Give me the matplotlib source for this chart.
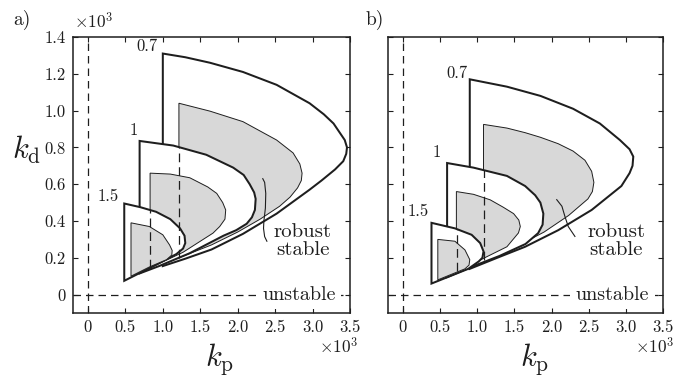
import matplotlib
matplotlib.use("Agg")
import matplotlib.pyplot as plt

plt.rcParams["font.family"] = ["cmr10", "DejaVu Serif"]
plt.rcParams["mathtext.fontset"] = "cm"
plt.rcParams["axes.unicode_minus"] = False
plt.rcParams["axes.formatter.use_mathtext"] = True

# all values in units of 10^3
# ---- panel a) ----
a07_kp = [1.0, 1.3, 1.63, 2.07, 2.52, 2.96, 3.15, 3.28, 3.38, 3.43, 3.46, 3.45, 3.41, 3.30, 3.12, 2.96, 2.52, 2.07, 1.65, 1.3, 1.0]
a07_kd = [1.31, 1.29, 1.26, 1.21, 1.14, 1.04, 0.98, 0.93, 0.87, 0.84, 0.80, 0.765, 0.725, 0.68, 0.62, 0.57, 0.44, 0.33, 0.245, 0.195, 0.155]
a07g_kp = [1.215, 1.63, 2.07, 2.52, 2.74, 2.83, 2.86, 2.85, 2.80, 2.70, 2.56, 2.30, 2.0, 1.65, 1.215]
a07g_kd = [1.04, 0.997, 0.94, 0.84, 0.77, 0.71, 0.66, 0.62, 0.58, 0.53, 0.48, 0.41, 0.34, 0.27, 0.20]
a1_kp = [0.69, 1.14, 1.58, 1.94, 2.08, 2.16, 2.22, 2.24, 2.23, 2.19, 2.12, 1.98, 1.81, 1.36, 0.95, 0.69]
a1_kd = [0.835, 0.81, 0.76, 0.69, 0.65, 0.60, 0.555, 0.52, 0.46, 0.42, 0.385, 0.35, 0.32, 0.225, 0.155, 0.115]
a1g_kp = [0.83, 1.1, 1.36, 1.60, 1.72, 1.80, 1.84, 1.83, 1.76, 1.67, 1.27, 0.83]
a1g_kd = [0.66, 0.655, 0.635, 0.585, 0.55, 0.50, 0.46, 0.41, 0.37, 0.334, 0.23, 0.145]
a15_kp = [0.485, 0.70, 0.91, 1.10, 1.23, 1.29, 1.30, 1.27, 1.18, 0.90, 0.485]
a15_kd = [0.495, 0.475, 0.45, 0.41, 0.36, 0.32, 0.28, 0.25, 0.22, 0.16, 0.075]
a15g_kp = [0.575, 0.82, 1.0, 1.09, 1.125, 1.12, 1.05, 0.82, 0.575]
a15g_kd = [0.39, 0.37, 0.325, 0.27, 0.24, 0.215, 0.19, 0.15, 0.10]
a_dash_kp = [0.83, 1.215]
a_dash_top = [0.46, 0.80]
a_dash_bot = [0.145, 0.20]
a_ptr_kp = [2.335, 2.36, 2.375, 2.37, 2.35, 2.345, 2.36, 2.39]
a_ptr_kd = [0.63, 0.61, 0.55, 0.47, 0.40, 0.36, 0.315, 0.29]
a_lab_kp = [0.79, 0.61, 0.27]
a_lab_kd = [1.35, 0.89, 0.535]

# ---- panel b) ----
b07_kp = [0.90, 1.40, 1.85, 2.29, 2.65, 2.92, 3.05, 3.10, 3.09, 3.05, 2.94, 2.54, 2.09, 1.645, 1.3, 0.90]
b07_kd = [1.17, 1.13, 1.08, 1.01, 0.93, 0.84, 0.79, 0.75, 0.70, 0.66, 0.59, 0.46, 0.35, 0.26, 0.205, 0.14]
b07g_kp = [1.085, 1.40, 1.645, 1.85, 2.09, 2.29, 2.45, 2.54, 2.57, 2.55, 2.49, 2.23, 1.9, 1.5, 1.085]
b07g_kd = [0.925, 0.905, 0.88, 0.855, 0.82, 0.78, 0.73, 0.67, 0.61, 0.56, 0.52, 0.43, 0.34, 0.255, 0.185]
b1_kp = [0.595, 0.95, 1.40, 1.645, 1.78, 1.85, 1.89, 1.88, 1.82, 1.65, 1.3, 0.95, 0.595]
b1_kd = [0.715, 0.69, 0.645, 0.59, 0.54, 0.50, 0.44, 0.38, 0.334, 0.275, 0.21, 0.155, 0.095]
b1g_kp = [0.72, 0.95, 1.175, 1.35, 1.49, 1.56, 1.58, 1.555, 1.40, 0.95, 0.72]
b1g_kd = [0.56, 0.545, 0.515, 0.475, 0.44, 0.405, 0.37, 0.335, 0.26, 0.17, 0.125]
b15_kp = [0.385, 0.70, 0.925, 1.04, 1.085, 1.07, 1.02, 0.88, 0.385]
b15_kd = [0.39, 0.36, 0.325, 0.28, 0.235, 0.20, 0.18, 0.14, 0.06]
b15g_kp = [0.47, 0.70, 0.835, 0.90, 0.89, 0.835, 0.47]
b15g_kd = [0.30, 0.29, 0.243, 0.19, 0.16, 0.14, 0.08]
b_dash_kp = [0.725, 1.09]
b_dash_top = [0.355, 0.675]
b_dash_bot = [0.13, 0.19]
b_ptr_kp = [2.07, 2.14, 2.18, 2.225, 2.315]
b_ptr_kd = [0.516, 0.48, 0.425, 0.37, 0.316]
b_lab_kp = [0.73, 0.46, 0.20]
b_lab_kd = [1.205, 0.775, 0.45]

levels = ["0.7", "1", "1.5"]
xticks = [0, 0.5, 1.0, 1.5, 2.0, 2.5, 3.0, 3.5]
xticklabels = ["0", "0.5", "1.0", "1.5", "2.0", "2.5", "3.0", "3.5"]
yticks = [0, 0.2, 0.4, 0.6, 0.8, 1.0, 1.2, 1.4]
yticklabels = ["0", "0.2", "0.4", "0.6", "0.8", "1.0", "1.2", "1.4"]

INK = "#1e1e1e"
GRAY = "#d8d8d8"


def draw_panel(ax, outer, inner, dash_kp, dash_top, dash_bot, ptr, lab_kp, lab_kd, ylabels):
    ax.axvline(0, color=INK, lw=0.9, ls=(0, (6, 4)), zorder=1)
    ax.axhline(0, color=INK, lw=0.9, ls=(0, (6, 4)), zorder=1)
    z = 2
    for (okp, okd), (gkp, gkd) in zip(outer, inner):
        ax.fill(okp, okd, facecolor="white", edgecolor=INK, lw=1.45, zorder=z)
        ax.fill(gkp, gkd, facecolor=GRAY, edgecolor=INK, lw=0.7, zorder=z + 1)
        z += 2
    for x, t, b in zip(dash_kp, dash_top, dash_bot):
        ax.plot([x, x], [b, t], color=INK, lw=0.9, ls=(0, (7, 4)), zorder=20)
    ax.plot(ptr[0], ptr[1], color=INK, lw=0.8, zorder=21)
    for s, x, y in zip(levels, lab_kp, lab_kd):
        ax.text(x, y, s, ha="center", va="center", fontsize=12, color=INK, zorder=22)
    ax.text(2.87, 0.29, "robust\nstable", ha="center", va="center", fontsize=15,
            linespacing=1.0, color=INK, zorder=22)
    ax.text(2.82, 0.0, "unstable", ha="center", va="center", fontsize=14.5, color=INK,
            zorder=22, bbox=dict(facecolor="white", edgecolor="none", pad=4))
    ax.set_xlim(-0.2, 3.5)
    ax.set_ylim(-0.1, 1.4)
    ax.set_xticks(xticks)
    ax.set_xticklabels(xticklabels)
    ax.set_yticks(yticks)
    if ylabels:
        ax.set_yticklabels(yticklabels)
    else:
        ax.set_yticklabels([])
    ax.tick_params(direction="in", top=True, right=True, length=3.5, width=0.8,
                   labelsize=12, colors=INK, pad=5)
    for sp in ax.spines.values():
        sp.set_linewidth(1.1)
        sp.set_color(INK)


fig = plt.figure(figsize=(6.99, 3.81), dpi=100)
axa = fig.add_axes([0.1044, 0.1785, 0.3963, 0.7244])
axb = fig.add_axes([0.5551, 0.1785, 0.3934, 0.7244])

draw_panel(axa,
           [(a07_kp, a07_kd), (a1_kp, a1_kd), (a15_kp, a15_kd)],
           [(a07g_kp, a07g_kd), (a1g_kp, a1g_kd), (a15g_kp, a15g_kd)],
           a_dash_kp, a_dash_top, a_dash_bot, (a_ptr_kp, a_ptr_kd),
           a_lab_kp, a_lab_kd, True)
draw_panel(axb,
           [(b07_kp, b07_kd), (b1_kp, b1_kd), (b15_kp, b15_kd)],
           [(b07g_kp, b07g_kd), (b1g_kp, b1g_kd), (b15g_kp, b15g_kd)],
           b_dash_kp, b_dash_top, b_dash_bot, (b_ptr_kp, b_ptr_kd),
           b_lab_kp, b_lab_kd, False)

fig.text(0.0315, 0.948, "a)", ha="center", va="center", fontsize=14, color=INK)
fig.text(0.5365, 0.948, "b)", ha="center", va="center", fontsize=14, color=INK)
fig.text(0.106, 0.918, r"$\times10^{3}$", ha="left", va="bottom", fontsize=12.5, color=INK)
fig.text(0.513, 0.118, r"$\times10^{3}$", ha="right", va="top", fontsize=12.5, color=INK)
fig.text(0.964, 0.118, r"$\times10^{3}$", ha="right", va="top", fontsize=12.5, color=INK)
fig.text(0.0386, 0.606, r"$k_{\mathrm{d}}$", ha="center", va="center", fontsize=22, color=INK)
fig.text(0.3147, 0.058, r"$k_{\mathrm{p}}$", ha="center", va="center", fontsize=22, color=INK)
fig.text(0.7654, 0.058, r"$k_{\mathrm{p}}$", ha="center", va="center", fontsize=22, color=INK)

fig.savefig("out.png", dpi=100)
